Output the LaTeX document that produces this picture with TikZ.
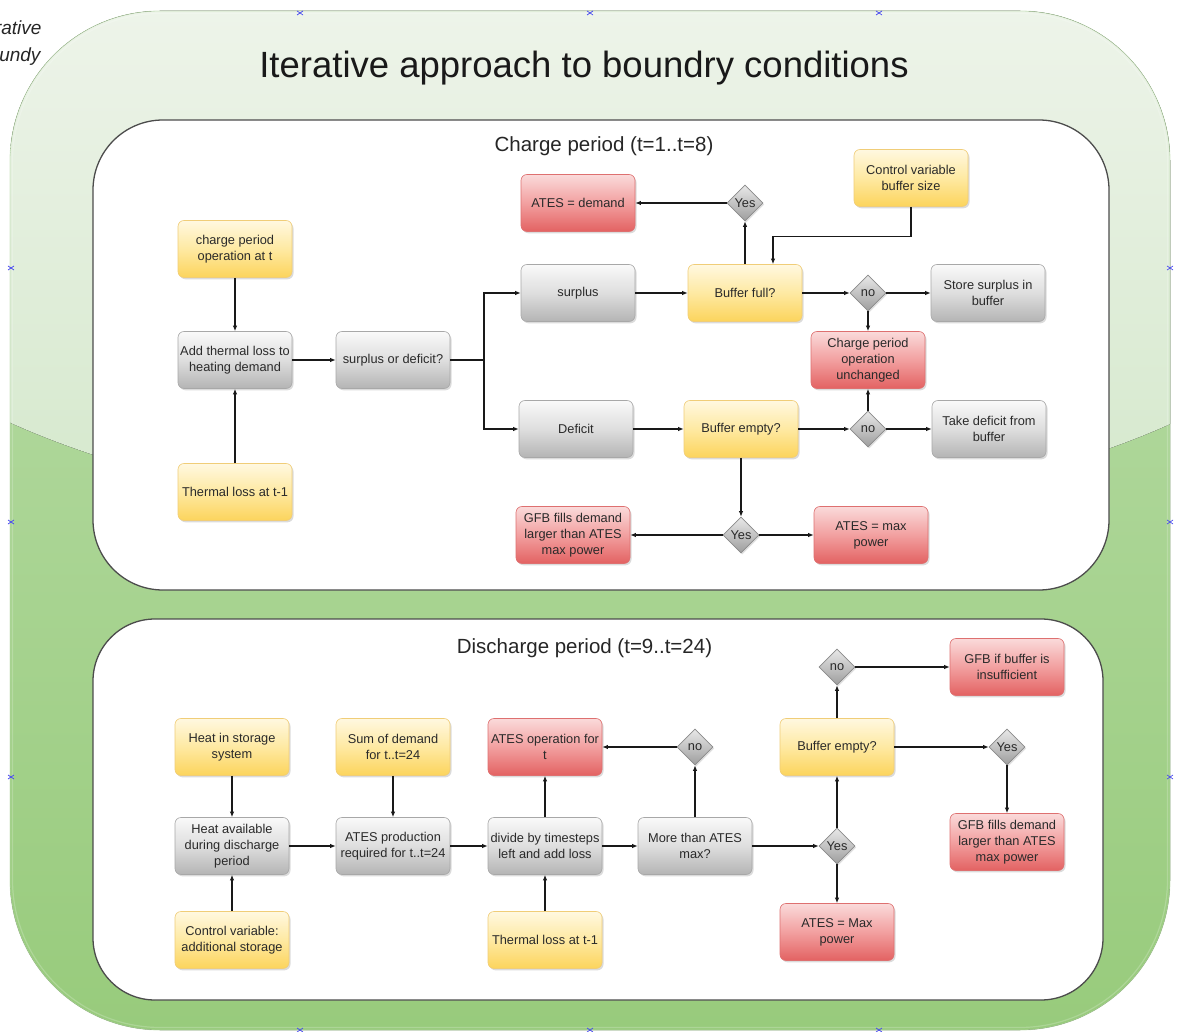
\documentclass[tikz,border=0pt]{standalone}
\usepackage{fontspec}
\setmainfont{Liberation Sans}
\usetikzlibrary{shapes.geometric,shadows,arrows.meta}

\definecolor{ytop}{HTML}{FFF8E0}
\definecolor{ymid}{HTML}{FEE9A2}
\definecolor{ybot}{HTML}{FCD45C}
\definecolor{yedge}{HTML}{F0CD78}
\definecolor{gtop}{HTML}{F9F9F9}
\definecolor{gmid}{HTML}{DEDEDE}
\definecolor{gbot}{HTML}{B4B4B4}
\definecolor{gedge}{HTML}{A8A8A8}
\definecolor{rtop}{HTML}{FADADA}
\definecolor{rmid}{HTML}{F2A0A0}
\definecolor{rbot}{HTML}{E36262}
\definecolor{redge}{HTML}{DE7070}
\definecolor{dtop}{HTML}{E8E8E8}
\definecolor{dbot}{HTML}{9E9E9E}
\definecolor{dedge}{HTML}{8A8A8A}
\definecolor{txt}{HTML}{2A2A2A}
\definecolor{lgreen}{HTML}{BCDEAC}
\definecolor{dgreen}{HTML}{98CB7C}
\definecolor{htop}{HTML}{EEF4EA}
\definecolor{hbot}{HTML}{D2E7C9}
\definecolor{rim}{HTML}{B2D4A2}
\definecolor{marker}{HTML}{4A4AF0}

\tikzset{
  box/.style={rounded corners=6pt, minimum width=114pt, minimum height=57pt,
    inner sep=1pt, align=center, text=txt, line width=0.6pt,
    font=\fontsize{12.8}{16}\selectfont,
    drop shadow={opacity=0.28, shadow xshift=1.5pt, shadow yshift=-1.8pt}},
  ybox/.style={box, draw=yedge, top color=ytop, bottom color=ybot, middle color=ymid},
  gbox/.style={box, draw=gedge, top color=gtop, bottom color=gbot, middle color=gmid},
  rbox/.style={box, draw=redge, top color=rtop, bottom color=rbot, middle color=rmid},
  dec/.style={diamond, aspect=1, minimum width=36pt, minimum height=36pt, inner sep=0pt,
    draw=dedge, line width=0.6pt, top color=dtop, bottom color=dbot, text=txt,
    font=\fontsize{12.8}{16}\selectfont,
    drop shadow={opacity=0.25, shadow xshift=1.2pt, shadow yshift=-1.5pt}},
  arr/.style={draw=black!90, line width=1.2pt, -{Latex[length=5.5pt,width=4.5pt]}},
  panel/.style={draw=black!70, line width=1.3pt, fill=white},
  xmk/.style={draw=marker, line width=0.7pt}
}

\begin{document}
\begin{tikzpicture}[x=1pt,y=-1pt]
\useasboundingbox (0,0) rectangle (1179,1032);
\begin{scope}
\clip (0,0) rectangle (1179,1032);

% green frame with glossy upper half
\fill[rounded corners=150pt, top color=lgreen, bottom color=dgreen] (10,11) rectangle (1170,1030);
\begin{scope}
  \clip[rounded corners=150pt] (10,11) rectangle (1170,1030);
  \fill[top color=htop, bottom color=hbot]
    (0,0) -- (1179,0) -- (1179,420) .. controls (880,560) and (300,560) .. (0,418) -- cycle;
\end{scope}
\draw[rim, line width=0.8pt, opacity=0.6, rounded corners=150pt] (10,11) rectangle (1170,1030);
\draw[white, line width=1.2pt, opacity=0.2, rounded corners=148pt] (12.5,13.5) rectangle (1167.5,1027.5);

% clipped heading at the top left
\node[anchor=east, font=\fontsize{19}{22}\selectfont\itshape, text=black!85] (hd1) at (45,28) {Iterative};
\node[anchor=east, font=\fontsize{19}{22}\selectfont\itshape, text=black!85] (hd2) at (44,57) {boundy};

% connection markers
\foreach \mx/\my in {300/13,590/13,879/13,11/268,1170/268,11/522,1170/522,11/777,1170/777,300/1030,590/1030,879/1030}
  \draw[xmk] (\mx-3,\my-2) -- (\mx+3,\my+2) (\mx-3,\my+2) -- (\mx+3,\my-2);
\end{scope}

% title
\node[font=\fontsize{36.5}{40}\selectfont, text=black!90] (title) at (584,68) {Iterative approach to boundry conditions};

% panels
\draw[panel, rounded corners=70pt] (93,120) rectangle (1109,590);
\draw[panel, rounded corners=62pt] (93,619) rectangle (1103,1000);
\node[font=\fontsize{20.5}{24}\selectfont, text=black!85] (cptitle) at (604,146) {Charge period (t=1..t=8)};
\node[font=\fontsize{20.5}{24}\selectfont, text=black!85] (dptitle) at (584.5,648) {Discharge period (t=9..t=24)};

% ---------- charge period ----------
\node[ybox] (cpo) at (235,249) {charge period\\operation at t};
\node[gbox] (atl) at (235,360) {Add thermal loss to\\heating demand};
\node[ybox] (tl1) at (235,492) {Thermal loss at t-1};
\node[gbox] (sod) at (393,360) {surplus or deficit?};
\node[gbox] (sur) at (578,293) {surplus};
\node[gbox] (def) at (576,429) {Deficit};
\node[ybox] (bf)  at (745,293) {Buffer full?};
\node[ybox] (be)  at (741,429) {Buffer empty?};
\node[rbox] (ad)  at (578,203) {ATES = demand};
\node[dec]  (yes1) at (745,203) {Yes};
\node[ybox] (cv)  at (911,178) {Control variable\\buffer size};
\node[dec]  (no1) at (868,293) {no};
\node[gbox] (ssb) at (988,293) {Store surplus in\\buffer};
\node[rbox] (cpu) at (868,360) {Charge period\\operation\\unchanged};
\node[dec]  (no2) at (868,429) {no};
\node[gbox] (tdb) at (989,429) {Take deficit from\\buffer};
\node[dec]  (yes2) at (741,535) {Yes};
\node[rbox] (gfb1) at (573,535) {GFB fills demand\\larger than ATES\\max power};
\node[rbox] (amp1) at (871,535) {ATES = max\\power};

\coordinate (sp) at (484,360);
\draw[arr] (cpo) -- (atl);
\draw[arr] (tl1) -- (atl);
\draw[arr] (atl) -- (sod);
\draw[arr] (sod.east) -- (sp) |- (sur.west);
\draw[arr] (sp) |- (def.west);
\draw[arr] (sur) -- (bf);
\draw[arr] (bf) -- (yes1);
\draw[arr] (yes1) -- (ad);
\draw[arr] (cv.south) -- ++(0,30) -| ([xshift=28pt]bf.north);
\draw[arr] (bf) -- (no1);
\draw[arr] (no1) -- (ssb);
\draw[arr] (no1) -- (cpu);
\draw[arr] (def) -- (be);
\draw[arr] (be) -- (no2);
\draw[arr] (no2) -- (tdb);
\draw[arr] (no2) -- (cpu);
\draw[arr] (be) -- (yes2);
\draw[arr] (yes2) -- (gfb1);
\draw[arr] (yes2) -- (amp1);

% ---------- discharge period ----------
\node[ybox] (his) at (232,747) {Heat in storage\\system};
\node[gbox] (hav) at (232,846) {Heat available\\during discharge\\period};
\node[ybox] (cva) at (232,940) {Control variable:\\additional storage};
\node[ybox] (sdm) at (393,747) {Sum of demand\\for t..t=24};
\node[gbox] (apr) at (393,846) {ATES production\\required  for t..t=24};
\node[rbox] (aop) at (545,747) {ATES operation for\\t};
\node[gbox] (dts) at (545,846) {divide by timesteps\\left and add loss};
\node[ybox] (tl2) at (545,940) {Thermal loss at t-1};
\node[dec]  (noA) at (695,747) {no};
\node[gbox] (mta) at (695,846) {More than ATES\\max?};
\node[dec]  (yesA) at (837,846) {Yes};
\node[ybox] (bem) at (837,747) {Buffer empty?};
\node[dec]  (noB) at (837,667) {no};
\node[rbox] (gib) at (1007,667) {GFB if buffer is\\insufficient};
\node[dec]  (yesB) at (1007,747) {Yes};
\node[rbox] (gff) at (1007,842) {GFB fills demand\\larger than ATES\\max power};
\node[rbox] (amx) at (837,932) {ATES = Max\\power};

\draw[arr] (his) -- (hav);
\draw[arr] (cva) -- (hav);
\draw[arr] (hav) -- (apr);
\draw[arr] (sdm) -- (apr);
\draw[arr] (apr) -- (dts);
\draw[arr] (tl2) -- (dts);
\draw[arr] (dts) -- (aop);
\draw[arr] (dts) -- (mta);
\draw[arr] (mta) -- (noA);
\draw[arr] (noA) -- (aop);
\draw[arr] (mta) -- (yesA);
\draw[arr] (yesA) -- (bem);
\draw[arr] (yesA) -- (amx);
\draw[arr] (bem) -- (noB);
\draw[arr] (noB) -- (gib);
\draw[arr] (bem) -- (yesB);
\draw[arr] (yesB) -- (gff);
\end{tikzpicture}
\end{document}
